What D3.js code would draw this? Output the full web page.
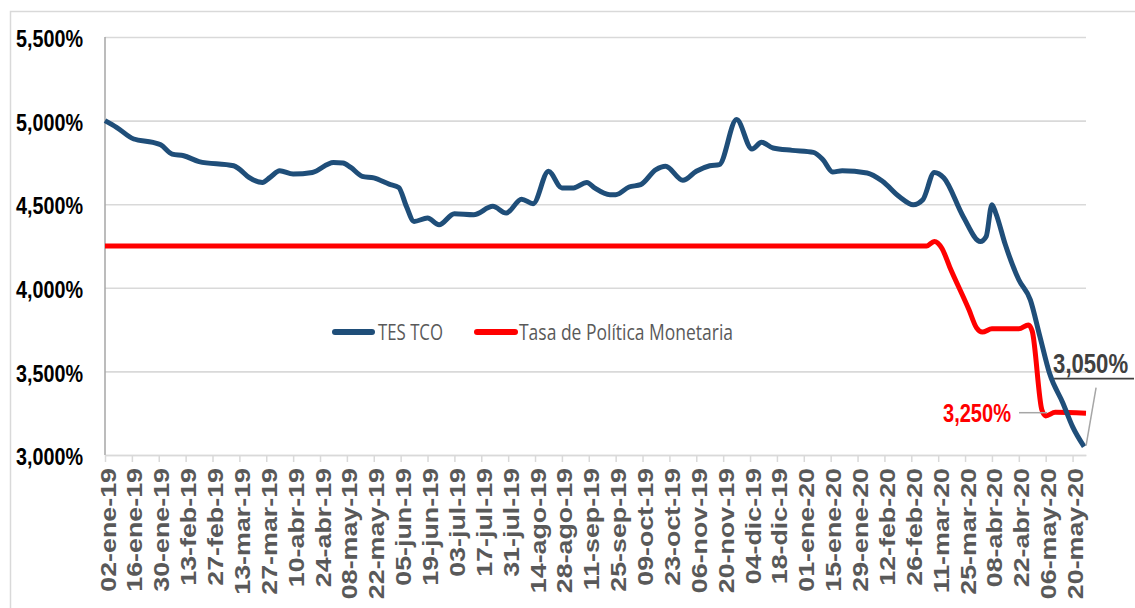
<!DOCTYPE html>
<html>
<head>
<meta charset="utf-8">
<script src="https://cdn.jsdelivr.net/npm/d3@7"></script>
<style>
  body { margin: 0; background: #fff; }
  svg { display: block; font-family: "Liberation Sans", Arial, sans-serif; }
</style>
</head>
<body>
<svg id="chart" width="1135" height="608"></svg>
<script>
// etiquetas del eje x (cada 14 dias)
var tickLabels = ["02-ene-19", "16-ene-19", "30-ene-19", "13-feb-19", "27-feb-19", "13-mar-19", "27-mar-19",
  "10-abr-19", "24-abr-19", "08-may-19", "22-may-19", "05-jun-19", "19-jun-19", "03-jul-19", "17-jul-19",
  "31-jul-19", "14-ago-19", "28-ago-19", "11-sep-19", "25-sep-19", "09-oct-19", "23-oct-19", "06-nov-19",
  "20-nov-19", "04-dic-19", "18-dic-19", "01-ene-20", "15-ene-20", "29-ene-20", "12-feb-20", "26-feb-20",
  "11-mar-20", "25-mar-20", "08-abr-20", "22-abr-20", "06-may-20", "20-may-20"];

var yTicks = [3.0, 3.5, 4.0, 4.5, 5.0, 5.5];

var seriesNames = ["TES TCO", "Tasa de Política Monetaria"];

// TES TCO
var tesDates = ["2019-01-02", "2019-01-08", "2019-01-17", "2019-01-27", "2019-01-31", "2019-02-06", "2019-02-12",
  "2019-02-20", "2019-03-10", "2019-03-13", "2019-03-18", "2019-03-25", "2019-03-29", "2019-04-03", "2019-04-10",
  "2019-04-20", "2019-05-01", "2019-05-06", "2019-05-10", "2019-05-16", "2019-05-22", "2019-05-30", "2019-06-04",
  "2019-06-08", "2019-06-12", "2019-06-19", "2019-06-25", "2019-07-03", "2019-07-13", "2019-07-23", "2019-07-30",
  "2019-08-07", "2019-08-13", "2019-08-21", "2019-08-28", "2019-09-03", "2019-09-10", "2019-09-14", "2019-09-22",
  "2019-09-25", "2019-10-02", "2019-10-08", "2019-10-16", "2019-10-21", "2019-10-30", "2019-11-06", "2019-11-13",
  "2019-11-18", "2019-11-27", "2019-12-05", "2019-12-10", "2019-12-16", "2019-12-26", "2020-01-06", "2020-01-11",
  "2020-01-16", "2020-01-21", "2020-02-03", "2020-02-11", "2020-02-20", "2020-02-27", "2020-03-03", "2020-03-09",
  "2020-03-14", "2020-03-24", "2020-04-02", "2020-04-05", "2020-04-08", "2020-04-10", "2020-04-15", "2020-04-22",
  "2020-04-28", "2020-05-03", "2020-05-08", "2020-05-15", "2020-05-20", "2020-05-26"];
var tesValues = [5.00, 4.96, 4.89, 4.87, 4.855, 4.80, 4.79,
  4.755, 4.73, 4.71, 4.66, 4.63, 4.66, 4.70, 4.68,
  4.69, 4.75, 4.747, 4.72, 4.667, 4.657, 4.62, 4.60,
  4.487, 4.397, 4.417, 4.377, 4.443, 4.437, 4.487, 4.447,
  4.53, 4.503, 4.697, 4.597, 4.597, 4.63, 4.597, 4.557,
  4.557, 4.603, 4.617, 4.707, 4.727, 4.643, 4.697, 4.73,
  4.737, 5.006, 4.83, 4.87, 4.836, 4.822, 4.81, 4.766,
  4.693, 4.70, 4.687, 4.637, 4.543, 4.497, 4.527, 4.69,
  4.657, 4.427, 4.277, 4.307, 4.497, 4.447, 4.257, 4.048,
  3.928, 3.708, 3.489, 3.31, 3.17, 3.05];

// Tasa de Politica Monetaria
var tpmDates = ["2019-01-02", "2020-03-05", "2020-03-09", "2020-03-13", "2020-03-17", "2020-03-27", "2020-03-31",
  "2020-04-03", "2020-04-08", "2020-04-22", "2020-04-27", "2020-04-29", "2020-05-04", "2020-05-06", "2020-05-11",
  "2020-05-27"];
var tpmValues = [4.25, 4.25, 4.277, 4.235, 4.125, 3.87, 3.76,
  3.735, 3.755, 3.755, 3.778, 3.74, 3.27, 3.234, 3.255,
  3.25];

var parse = d3.utcParse("%Y-%m-%d");
var months = {ene: 0, feb: 1, mar: 2, abr: 3, may: 4, jun: 5, jul: 6, ago: 7, sep: 8, oct: 9, nov: 10, dic: 11};
function labelDate(s) {
  var p = s.split("-");
  return new Date(Date.UTC(2000 + (+p[2]), months[p[1]], +p[0]));
}
var tickDates = tickLabels.map(labelDate);

var tes = tesDates.map(function(d, i) { return {date: parse(d), value: tesValues[i]}; });
var tpm = tpmDates.map(function(d, i) { return {date: parse(d), value: tpmValues[i]}; });

var es = d3.formatLocale({decimal: ",", thousands: ".", grouping: [3], currency: ["$", ""]});
var fmt = function(v) { return es.format(".3f")(v) + "%"; };

var plotLeft = 105, plotRight = 1086, plotTop = 37, plotBottom = 455;

var x = d3.scaleUtc()
  .domain([parse("2019-01-02"), parse("2020-05-27")])
  .range([plotLeft, plotRight]);
var y = d3.scaleLinear()
  .domain([3, 5.5])
  .range([plotBottom, plotTop]);

var svg = d3.select("#chart");

// marco
svg.append("rect")
  .attr("x", 10.5).attr("y", 11.5)
  .attr("width", 1300).attr("height", 800)
  .attr("fill", "none").attr("stroke", "#d9d9d9").attr("stroke-width", 1.5);

// lineas de cuadricula + etiquetas y
var yAxis = svg.append("g")
  .attr("transform", "translate(" + plotLeft + ",0)")
  .call(d3.axisLeft(y).tickValues(yTicks).tickSize(-(plotRight - plotLeft)).tickFormat(fmt));
yAxis.select(".domain").remove();
yAxis.selectAll(".tick line").attr("stroke", "#d9d9d9").attr("stroke-width", 1.6);
yAxis.selectAll(".tick text")
  .attr("x", -22).attr("dy", "0.42em")
  .attr("fill", "#000")
  .attr("font-size", 23).attr("font-weight", "bold")
  .attr("textLength", 67).attr("lengthAdjust", "spacingAndGlyphs");

svg.append("line")
  .attr("x1", plotLeft).attr("x2", plotLeft).attr("y1", plotTop).attr("y2", plotBottom)
  .attr("stroke", "#a6a6a6").attr("stroke-width", 1.5);

// eje x
var xAxis = svg.append("g")
  .attr("transform", "translate(0," + plotBottom + ")")
  .call(d3.axisBottom(x).tickValues(tickDates).tickSize(7).tickSizeOuter(0)
    .tickFormat(function(d, i) { return tickLabels[i]; }));
xAxis.select(".domain").attr("stroke", "#d9d9d9").attr("stroke-width", 1.6);
xAxis.selectAll(".tick line").attr("stroke", "#d9d9d9").attr("stroke-width", 1.5);
xAxis.selectAll(".tick text")
  .attr("x", 0).attr("y", 0).attr("dy", null)
  .attr("text-anchor", "end")
  .attr("transform", "translate(10,13) rotate(-90) scale(1.22,1)")
  .attr("fill", "#595959")
  .attr("font-weight", "bold")
  .attr("font-size", 22);

// series
var line = d3.line()
  .x(function(d) { return x(d.date); })
  .y(function(d) { return y(d.value); })
  .curve(d3.curveMonotoneX);

svg.append("path").datum(tpm)
  .attr("d", line)
  .attr("fill", "none").attr("stroke", "#ff0000").attr("stroke-width", 5)
  .attr("stroke-linejoin", "round");

svg.append("path").datum(tes)
  .attr("d", line)
  .attr("fill", "none").attr("stroke", "#1f4e79").attr("stroke-width", 5)
  .attr("stroke-linejoin", "round");

// leyenda
var legend = svg.append("g").attr("font-family", "'Open Sans', sans-serif").attr("fill", "#595959");
var legItems = [
  {name: seriesNames[0], color: "#1f4e79", x0: 335, x1: 372, tx: 378, tl: 65},
  {name: seriesNames[1], color: "#ff0000", x0: 477, x1: 515, tx: 519, tl: 214}
];
legItems.forEach(function(it) {
  legend.append("line")
    .attr("x1", it.x0).attr("x2", it.x1).attr("y1", 332).attr("y2", 332)
    .attr("stroke", it.color).attr("stroke-width", 6).attr("stroke-linecap", "round");
  legend.append("text")
    .attr("x", it.tx).attr("y", 340)
    .attr("font-size", 22)
    .attr("textLength", it.tl).attr("lengthAdjust", "spacingAndGlyphs")
    .text(it.name);
});

// anotaciones de los ultimos valores
var lastTpm = tpm[tpm.length - 1], lastTes = tes[tes.length - 1];
var ty = y(lastTpm.value);
svg.append("line")
  .attr("x1", x(lastTpm.date) - 67).attr("x2", x(lastTpm.date) - 39)
  .attr("y1", ty - 0.5).attr("y2", ty - 0.5)
  .attr("stroke", "#a6a6a6").attr("stroke-width", 1.5);
svg.append("text")
  .attr("x", x(lastTpm.date) - 75).attr("y", ty + 9)
  .attr("text-anchor", "end")
  .attr("fill", "#ff0000").attr("font-weight", "bold").attr("font-size", 25)
  .attr("textLength", 68).attr("lengthAdjust", "spacingAndGlyphs")
  .text(fmt(lastTpm.value));

var ey = y(lastTes.value);
svg.append("line")
  .attr("x1", x(lastTes.date) + 2).attr("y1", ey - 1)
  .attr("x2", x(lastTes.date) + 12).attr("y2", ey - 59)
  .attr("stroke", "#a6a6a6").attr("stroke-width", 1.5);
svg.append("line")
  .attr("x1", x(lastTes.date) - 30).attr("x2", 1134)
  .attr("y1", ey - 68).attr("y2", ey - 68)
  .attr("stroke", "#404040").attr("stroke-width", 1.6);
svg.append("text")
  .attr("transform", "translate(" + (x(lastTes.date) - 31) + "," + (ey - 74) + ") scale(0.79,1)")
  .attr("fill", "#404040").attr("font-weight", "bold").attr("font-size", 28)
  .text(fmt(lastTes.value));
</script>
</body>
</html>
